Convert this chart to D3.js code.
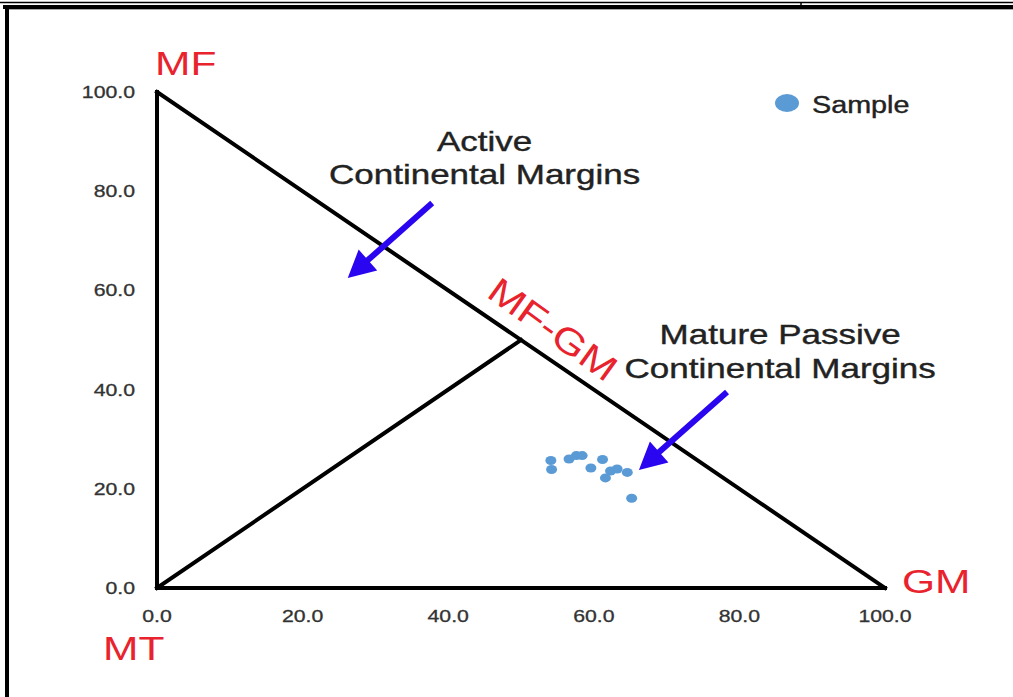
<!DOCTYPE html>
<html>
<head>
    <meta charset="utf-8">
    <title>MF-MT-GM ternary plot</title>
    <style>
        body { margin: 0; background: #fff; }
        text { font-family: "Liberation Sans", Arial, sans-serif; }
        .tick { font-size: 17px; fill: #333; stroke: #333; stroke-width: 0.3; }
        .corner { font-size: 34px; fill: #e8232d; }
        .note { font-size: 28px; fill: #222; stroke: #222; stroke-width: 0.4; }
    </style>
</head>
<body>
    <svg width="1013" height="697"></svg>
    <script src="https://d3js.org/d3.v7.min.js"></script>
    <script>
    // samples (x = GM %, y = MF %)
    var sampleX = [54.1, 54.2, 56.6, 57.6, 58.4, 59.6, 61.2, 61.6, 62.3, 63.2, 64.6, 65.2];
    var sampleY = [25.7, 23.9, 26.0, 26.7, 26.7, 24.2, 25.9, 22.2, 23.6, 24.0, 23.3, 18.1];

    var tickValues = [0, 20, 40, 60, 80, 100];

    // field boundaries: triangle plus MT -> MF-GM split
    var boundaries = [
      [[0, 0], [0, 100]],
      [[0, 100], [100, 0]],
      [[0, 0], [100, 0]],
      [[0, 0], [50, 50]]
    ];

    var arrows = [
      { from: [37.8, 77.6], to: [26.2, 62.5] },
      { from: [78.3, 39.5], to: [66.2, 23.8] }
    ];

    var notes = [
      { x: 45.0, y: 88.2, text: "Active" },
      { x: 45.0, y: 81.5, text: "Continental Margins" },
      { x: 85.6, y: 49.2, text: "Mature Passive" },
      { x: 85.6, y: 42.3, text: "Continental Margins" }
    ];

    var svg = d3.select("svg"),
        width = +svg.attr("width"),
        height = +svg.attr("height");

    var sx = 1.25; // the original is stretched sideways a bit

    var x = d3.scaleLinear().domain([0, 100]).range([157, 885]);
    var y = d3.scaleLinear().domain([0, 100]).range([588, 92]);

    // frame
    svg.append("line").attr("x1", 0).attr("x2", width).attr("y1", 2.5).attr("y2", 2.5)
        .attr("stroke", "#000").attr("stroke-width", 1.5);
    svg.append("line").attr("x1", 801).attr("x2", 801).attr("y1", 2).attr("y2", 6)
        .attr("stroke", "#000").attr("stroke-width", 1.5);
    svg.append("rect").attr("x", 3).attr("y", 5).attr("width", width - 3).attr("height", 4)
        .attr("fill", "#000");
    svg.append("rect").attr("x", 9).attr("y", 9).attr("width", width - 9).attr("height", 1)
        .attr("fill", "#aaa");
    svg.append("rect").attr("x", 5).attr("y", 5).attr("width", 4).attr("height", height - 5)
        .attr("fill", "#000");

    function stretched(g, px, py, str, cls, anchor) {
      return g.append("text")
          .attr("class", cls)
          .attr("text-anchor", anchor || "start")
          .attr("transform", "translate(" + px + "," + py + ") scale(" + sx + ",1)")
          .text(str);
    }

    // tick labels (no axis lines in the original)
    tickValues.forEach(function(v) {
      stretched(svg, x(0) - 22, y(v) + 6, v.toFixed(1), "tick", "end");
      stretched(svg, x(v), 622, v.toFixed(1), "tick", "middle");
    });

    // boundaries
    svg.append("g").selectAll("line")
      .data(boundaries)
      .enter().append("line")
        .attr("x1", function(d) { return x(d[0][0]); })
        .attr("y1", function(d) { return y(d[0][1]); })
        .attr("x2", function(d) { return x(d[1][0]); })
        .attr("y2", function(d) { return y(d[1][1]); })
        .attr("stroke", "#000")
        .attr("stroke-width", 4)
        .attr("stroke-linecap", "square");

    // corner labels
    stretched(svg, x(0) - 2, 75, "MF", "corner");
    stretched(svg, x(100) + 17, 593, "GM", "corner");
    stretched(svg, x(0) - 54, 660, "MT", "corner");

    // MF-GM along the hypotenuse
    var ang = Math.atan2(y(0) - y(100), x(100) - x(0)) * 180 / Math.PI + 1.5;
    svg.append("text")
        .attr("class", "corner")
        .style("font-size", "36px")
        .attr("text-anchor", "middle")
        .attr("transform", "translate(" + (x(53.5) - 1) + "," + (y(46.5) - 18) + ") rotate(" + ang + ") scale(1.22,1)")
        .text("MF-GM");

    // notes
    notes.forEach(function(n) {
      stretched(svg, x(n.x), y(n.y), n.text, "note", "middle");
    });

    // arrows
    function arrowPath(a) {
      var x0 = x(a.from[0]), y0 = y(a.from[1]),
          x1 = x(a.to[0]), y1 = y(a.to[1]);
      var dx = x1 - x0, dy = y1 - y0, len = Math.sqrt(dx * dx + dy * dy);
      var ux = dx / len, uy = dy / len, nx = -uy, ny = ux;
      var head = 27, hw = 14, sw = 3;
      var bx = x1 - ux * head, by = y1 - uy * head;
      var pts = [
        [x0 + nx * sw, y0 + ny * sw],
        [bx + nx * sw, by + ny * sw],
        [bx + nx * hw, by + ny * hw],
        [x1, y1],
        [bx - nx * hw, by - ny * hw],
        [bx - nx * sw, by - ny * sw],
        [x0 - nx * sw, y0 - ny * sw]
      ];
      return "M" + pts.map(function(p) { return p[0] + "," + p[1]; }).join("L") + "Z";
    }
    svg.append("g").selectAll("path")
      .data(arrows)
      .enter().append("path")
        .attr("d", arrowPath)
        .attr("fill", "#2a05f0");

    // samples
    svg.append("g").selectAll("ellipse")
      .data(d3.range(sampleX.length))
      .enter().append("ellipse")
        .attr("cx", function(i) { return x(sampleX[i]); })
        .attr("cy", function(i) { return y(sampleY[i]); })
        .attr("rx", 5.5)
        .attr("ry", 4.5)
        .attr("fill", "#5b9bd5");

    // legend
    svg.append("ellipse").attr("cx", 787).attr("cy", 103).attr("rx", 12).attr("ry", 9)
        .attr("fill", "#5b9bd5");
    stretched(svg, 812, 113, "Sample", "note").style("font-size", "23px");
    </script>
</body>
</html>
